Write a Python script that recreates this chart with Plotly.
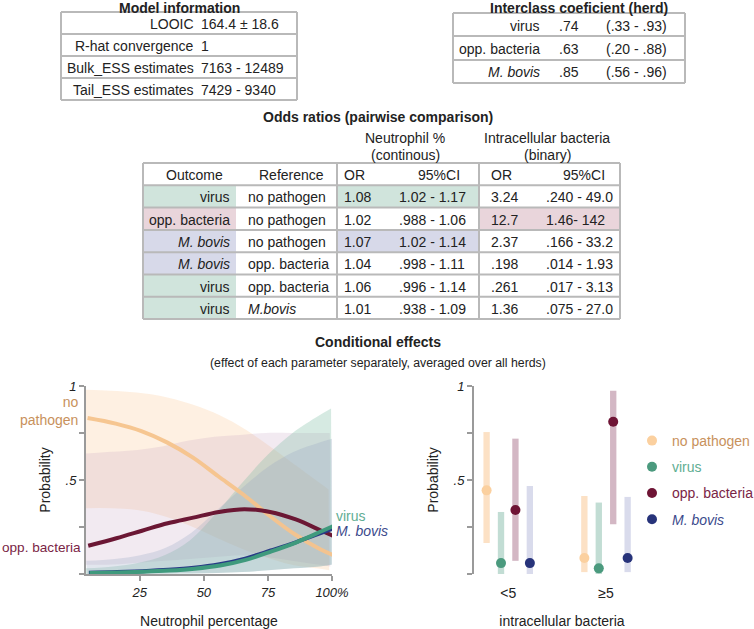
import plotly.graph_objects as go

# ---------------- data ----------------
model_labels = ["LOOIC", "R-hat convergence", "Bulk_ESS estimates", "Tail_ESS estimates"]
model_values = ["164.4 ± 18.6", "1", "7163 - 12489", "7429 - 9340"]

icc_labels = ["virus", "opp. bacteria", "<i>M. bovis</i>"]
icc_est = [".74", ".63", ".85"]
icc_ci = ["(.33 - .93)", "(.20 - .88)", "(.56 - .96)"]

or_outcome = ["virus", "opp. bacteria", "M. bovis", "M. bovis", "virus", "virus"]
or_reference = ["no pathogen", "no pathogen", "no pathogen", "opp. bacteria", "opp. bacteria", "M.bovis"]
neut_or = ["1.08", "1.02", "1.07", "1.04", "1.06", "1.01"]
neut_ci = ["1.02 - 1.17", ".988 - 1.06", "1.02 - 1.14", ".998 - 1.11", ".996 - 1.14", ".938 - 1.09"]
neut_lo = [1.02, 0.988, 1.02, 0.998, 0.996, 0.938]
ic_or = ["3.24", "12.7", "2.37", ".198", ".261", "1.36"]
ic_ci = [".240 - 49.0", "1.46- 142", ".166 - 33.2", ".014 - 1.93", ".017 - 3.13", ".075 - 27.0"]
ic_lo = [0.240, 1.46, 0.166, 0.014, 0.017, 0.075]

# Conditional effects: neutrophil percentage
neut_x = [4, 15, 25, 35, 45, 55, 65, 75, 85, 95, 100]
np_mean = [0.83, 0.80, 0.76, 0.70, 0.62, 0.52, 0.42, 0.31, 0.21, 0.13, 0.10]
np_lo = [0.35, 0.35, 0.34, 0.31, 0.26, 0.20, 0.14, 0.09, 0.05, 0.03, 0.02]
np_hi = [0.98, 0.975, 0.965, 0.945, 0.91, 0.86, 0.79, 0.70, 0.60, 0.50, 0.45]
opp_mean = [0.15, 0.19, 0.23, 0.27, 0.30, 0.33, 0.345, 0.33, 0.29, 0.23, 0.20]
opp_lo = [0.05, 0.05, 0.06, 0.07, 0.08, 0.09, 0.10, 0.09, 0.07, 0.05, 0.04]
opp_hi = [0.64, 0.65, 0.66, 0.68, 0.71, 0.73, 0.74, 0.75, 0.75, 0.75, 0.75]
vir_mean = [0.005, 0.008, 0.012, 0.018, 0.028, 0.045, 0.075, 0.12, 0.17, 0.23, 0.26]
vir_lo = [0.0, 0.0, 0.0, 0.001, 0.002, 0.005, 0.01, 0.02, 0.03, 0.04, 0.05]
vir_hi = [0.03, 0.04, 0.06, 0.10, 0.18, 0.32, 0.48, 0.63, 0.75, 0.84, 0.88]
bov_mean = [0.007, 0.010, 0.015, 0.022, 0.033, 0.052, 0.082, 0.125, 0.17, 0.22, 0.245]
bov_lo = [0.0, 0.0, 0.0, 0.001, 0.002, 0.005, 0.01, 0.02, 0.03, 0.04, 0.05]
bov_hi = [0.07, 0.08, 0.10, 0.14, 0.22, 0.34, 0.46, 0.57, 0.65, 0.70, 0.72]

# Conditional effects: intracellular bacteria
ic_cats = ["<5", "≥5"]
cat_series = ["no pathogen", "virus", "opp. bacteria", "M. bovis"]
cat_mean = {"no pathogen": [0.445, 0.085], "virus": [0.058, 0.03],
            "opp. bacteria": [0.34, 0.81], "M. bovis": [0.058, 0.085]}
cat_lo = {"no pathogen": [0.165, 0.01], "virus": [0.0, 0.0],
          "opp. bacteria": [0.07, 0.265], "M. bovis": [0.0, 0.01]}
cat_hi = {"no pathogen": [0.755, 0.415], "virus": [0.33, 0.38],
          "opp. bacteria": [0.72, 0.975], "M. bovis": [0.468, 0.41]}

# ---------------- styles ----------------
W, H = 754, 629
FONT = "Liberation Sans, Arial, sans-serif"
TXT = "#222222"
GRID = "#b9b9b9"
AX = "#9a9a9a"
fill_col = {"virus": "#d0e4dc", "opp. bacteria": "#e9d5db", "M. bovis": "#d7d9e9"}
line_col = {"no pathogen": "rgba(245,195,140,0.95)", "opp. bacteria": "#6b1734",
            "virus": "#3f9a7d", "M. bovis": "#283a86"}
band_col = {"no pathogen": "rgba(250,200,150,0.28)", "opp. bacteria": "rgba(195,160,190,0.22)",
            "virus": "rgba(120,185,160,0.30)", "M. bovis": "rgba(150,165,195,0.28)"}
mark_col = {"no pathogen": "#fbd09f", "virus": "#4b9a7e", "opp. bacteria": "#6e1435", "M. bovis": "#27337a"}
bar_col = {"no pathogen": "rgba(250,200,150,0.55)", "virus": "rgba(120,180,160,0.45)",
           "opp. bacteria": "rgba(130,50,85,0.35)", "M. bovis": "rgba(165,170,210,0.42)"}
lab_col = {"no pathogen": "#c8915c", "virus": "#5fae93", "opp. bacteria": "#7a2545", "M. bovis": "#3b4a8c"}


def X(px):
    return px / W


def Y(py):
    return 1 - py / H


fig = go.Figure()


def text(px, py, s, size=14, color=TXT, xanchor="center", bold=False):
    fig.add_annotation(x=X(px), y=Y(py), xref="paper", yref="paper",
                       text=("<b>%s</b>" % s) if bold else s, showarrow=False,
                       xanchor=xanchor, yanchor="middle", borderpad=0,
                       font=dict(family=FONT, size=size, color=color))


def hline(x0, x1, py, w=2):
    fig.add_shape(type="line", xref="paper", yref="paper", x0=X(x0), x1=X(x1),
                  y0=Y(py), y1=Y(py), line=dict(color=GRID, width=w))


def vline(px, y0, y1, w=2):
    fig.add_shape(type="line", xref="paper", yref="paper", x0=X(px), x1=X(px),
                  y0=Y(y0), y1=Y(y1), line=dict(color=GRID, width=w))


def rect(x0, y0, x1, y1, fill):
    fig.add_shape(type="rect", xref="paper", yref="paper", x0=X(x0), x1=X(x1),
                  y0=Y(y0), y1=Y(y1), fillcolor=fill, line_width=0, layer="below")


def ital(s):
    return "<i>%s</i>" % s if s.replace(" ", "").lower().startswith("m.bovis") else s


# ---------------- Model information table ----------------
text(179, 8.5, "Model information", bold=True)
m_rows = [12, 34, 56, 78, 100]
for r in m_rows:
    hline(61, 297, r)
vline(61, 12, 100)
vline(297, 12, 100)
for i, (lab, val) in enumerate(zip(model_labels, model_values)):
    yc = (m_rows[i] + m_rows[i + 1]) / 2 + 1
    text(195, yc, lab, xanchor="right")
    text(200, yc, val, xanchor="left")

# ---------------- Interclass coefficient table ----------------
text(579, 8.5, "Interclass coeficient (herd)", bold=True)
c_rows = [13, 36, 60, 83]
for r in c_rows:
    hline(453, 685, r)
vline(453, 13, 83)
vline(685, 13, 83)
for i in range(len(icc_labels)):
    yc = (c_rows[i] + c_rows[i + 1]) / 2 + 1
    text(541, yc, icc_labels[i], xanchor="right")
    text(558, yc, icc_est[i], xanchor="left")
    text(605, yc, icc_ci[i], xanchor="left")

# ---------------- Odds ratio table ----------------
text(378, 117, "Odds ratios (pairwise comparison)", bold=True)
text(405, 138, "Neutrophil %")
text(405, 155, "(continous)")
text(547, 138, "Intracellular bacteria")
text(547, 155, "(binary)")
o_rows = [163 + i * 22.3 for i in range(8)]
for i in range(len(or_outcome)):
    t, b = o_rows[i + 1], o_rows[i + 2]
    col = fill_col.get(or_outcome[i], fill_col["M. bovis"])
    rect(143, t, 236, b, col)
    if neut_lo[i] > 1:
        rect(337, t, 479, b, col)
    if ic_lo[i] > 1:
        rect(479, t, 620, b, col)
for r in o_rows:
    hline(143, 620, r)
for v in (143, 337, 479, 620):
    vline(v, o_rows[0], o_rows[-1])
yh = (o_rows[0] + o_rows[1]) / 2 + 1
text(194, yh, "Outcome")
text(291, yh, "Reference")
text(343, yh, "OR", xanchor="left")
text(417, yh, "95%CI", xanchor="left")
text(490, yh, "OR", xanchor="left")
text(562, yh, "95%CI", xanchor="left")
for i in range(len(or_outcome)):
    yc = (o_rows[i + 1] + o_rows[i + 2]) / 2 + 1
    text(231, yc, ital(or_outcome[i]), xanchor="right")
    text(247, yc, ital(or_reference[i]), xanchor="left")
    text(343, yc, neut_or[i], xanchor="left")
    text(398, yc, neut_ci[i], xanchor="left")
    text(490, yc, ic_or[i], xanchor="left")
    text(545, yc, ic_ci[i], xanchor="left")

# ---------------- Conditional effects titles ----------------
text(378, 342, "Conditional effects", bold=True)
text(378, 363, "(effect of each parameter separately, averaged over all herds)", size=12.3)

# ---------------- Left chart: neutrophil percentage ----------------
bands = [("no pathogen", np_lo, np_hi), ("opp. bacteria", opp_lo, opp_hi),
         ("virus", vir_lo, vir_hi), ("M. bovis", bov_lo, bov_hi)]
for name, lo, hi in bands:
    fig.add_trace(go.Scatter(x=neut_x, y=hi, mode="lines", line=dict(width=0, shape="spline"),
                             showlegend=False, hoverinfo="skip", xaxis="x", yaxis="y"))
    fig.add_trace(go.Scatter(x=neut_x, y=lo, mode="lines", line=dict(width=0, shape="spline"),
                             fill="tonexty", fillcolor=band_col[name], showlegend=False,
                             hoverinfo="skip", xaxis="x", yaxis="y"))
for name, mean in [("no pathogen", np_mean), ("opp. bacteria", opp_mean),
                   ("M. bovis", bov_mean), ("virus", vir_mean)]:
    fig.add_trace(go.Scatter(x=neut_x, y=mean, mode="lines", name=name,
                             line=dict(color=line_col[name], width=4, shape="spline"),
                             showlegend=False, xaxis="x", yaxis="y"))

ann_font = lambda c, s=14: dict(family=FONT, size=s, color=c)
fig.add_annotation(x=neut_x[0], y=0.865, xref="x", yref="y", text="no<br>pathogen", align="right",
                   xanchor="right", yanchor="middle", xshift=-5, showarrow=False,
                   font=ann_font(lab_col["no pathogen"]))
fig.add_annotation(x=neut_x[0], y=0.14, xref="x", yref="y", text="opp. bacteria",
                   xanchor="right", yanchor="middle", xshift=-3, showarrow=False,
                   font=ann_font(lab_col["opp. bacteria"], 13.6))
fig.add_annotation(x=neut_x[-1], y=0.31, xref="x", yref="y", text="virus",
                   xanchor="left", yanchor="middle", xshift=2, showarrow=False,
                   font=ann_font(lab_col["virus"]))
fig.add_annotation(x=neut_x[-1], y=0.228, xref="x", yref="y", text="<i>M. bovis</i>",
                   xanchor="left", yanchor="middle", xshift=2, showarrow=False,
                   font=ann_font(lab_col["M. bovis"]))

# ---------------- Right chart: intracellular bacteria ----------------
for name in cat_series:
    lo = cat_lo[name]
    hi = cat_hi[name]
    fig.add_trace(go.Bar(x=ic_cats, y=[h - l for h, l in zip(hi, lo)], base=lo,
                         offsetgroup=name, marker=dict(color=bar_col[name], line_width=0),
                         showlegend=False, hoverinfo="skip", xaxis="x2", yaxis="y2"))
for name in cat_series:
    disp = "<i>M. bovis</i>" if name == "M. bovis" else name
    fig.add_trace(go.Scatter(x=ic_cats, y=cat_mean[name], mode="markers", offsetgroup=name,
                             name='<span style="color:%s">%s</span>' % (lab_col[name], disp),
                             legendgroup=name,
                             marker=dict(color=mark_col[name], size=10),
                             xaxis="x2", yaxis="y2"))

yax = dict(range=[0, 1], tickvals=[0, 0.25, 0.5, 0.75, 1],
           ticktext=["", "", "<i>.5</i>", "", "<i>1</i>"],
           showline=True, linecolor=AX, linewidth=2, ticks="outside", ticklen=5,
           tickwidth=2, tickcolor=AX, showgrid=False, zeroline=False,
           tickfont=dict(family=FONT, size=13, color=TXT),
           title=dict(text="Probability", standoff=12, font=dict(family=FONT, size=14, color=TXT)),
           domain=[Y(574), Y(386)])

fig.update_layout(
    width=W, height=H, autosize=False,
    margin=dict(l=0, r=0, t=0, b=0, autoexpand=False),
    paper_bgcolor="white", plot_bgcolor="rgba(0,0,0,0)",
    font=dict(family=FONT, size=14, color=TXT),
    barmode="group", bargap=0.41, bargroupgap=0.56,
    scattermode="group", scattergap=0.41,
    xaxis=dict(domain=[X(86), X(332)], range=[4, 100], anchor="y",
               tickvals=[25, 50, 75, 100],
               ticktext=["<i>25</i>", "<i>50</i>", "<i>75</i>", "<i>100%</i>"],
               showline=True, linecolor=AX, linewidth=2, ticks="outside", ticklen=5,
               tickwidth=2, tickcolor=AX, showgrid=False, zeroline=False,
               tickfont=dict(family=FONT, size=13, color=TXT),
               title=dict(text="Neutrophil percentage", standoff=20,
                          font=dict(family=FONT, size=14, color=TXT))),
    yaxis=dict(anchor="x", **yax),
    xaxis2=dict(domain=[X(474), X(650)], anchor="y2", type="category",
                categoryorder="array", categoryarray=ic_cats, range=[-0.35, 1.45],
                showline=False, ticks="outside", ticklen=6, tickcolor="rgba(0,0,0,0)",
                showgrid=False, zeroline=False,
                tickfont=dict(family=FONT, size=14, color=TXT),
                title=dict(text="intracellular bacteria", standoff=18,
                           font=dict(family=FONT, size=14, color=TXT))),
    yaxis2=dict(anchor="x2", **yax),
    legend=dict(x=X(632), y=Y(425), xanchor="left", yanchor="top",
                bgcolor="rgba(0,0,0,0)", font=dict(family=FONT, size=14, color=TXT),
                traceorder="grouped", tracegroupgap=5, itemclick=False),
    showlegend=True,
)

fig.write_html("out.html")
